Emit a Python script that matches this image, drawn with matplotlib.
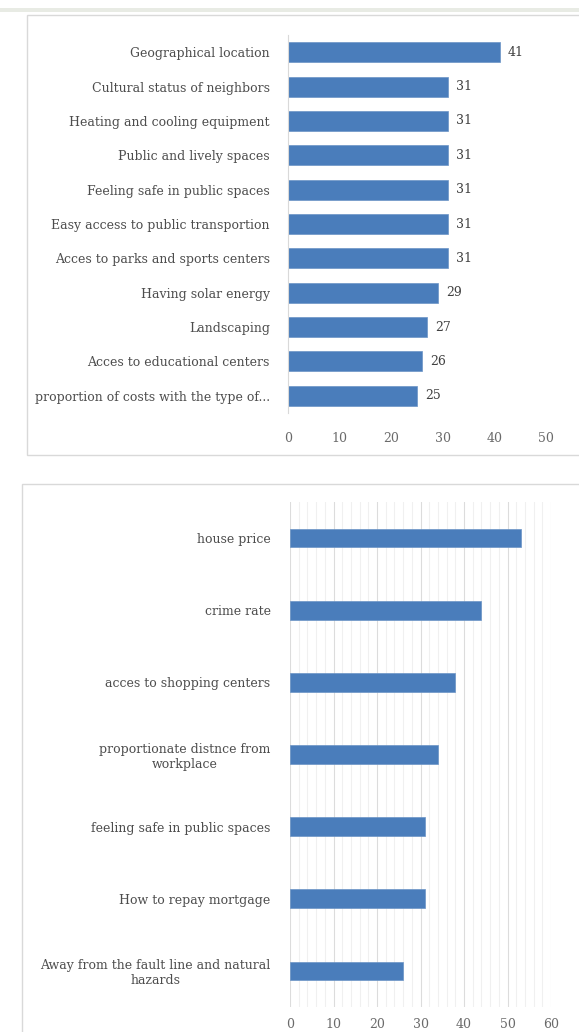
import matplotlib.pyplot as plt
from matplotlib.patches import Rectangle
import numpy as np

# Top chart data (listed top to bottom)
top_labels = [
    'Geographical location',
    'Cultural status of neighbors',
    'Heating and cooling equipment',
    'Public and lively spaces',
    'Feeling safe in public spaces',
    'Easy access to public transportion',
    'Acces to parks and sports centers',
    'Having solar energy',
    'Landscaping',
    'Acces to educational centers',
    'proportion of costs with the type of...',
]
top_values = [41, 31, 31, 31, 31, 31, 31, 29, 27, 26, 25]
top_ticks = [0, 10, 20, 30, 40, 50]

# Bottom chart data (listed top to bottom)
bottom_labels = [
    'house price',
    'crime rate',
    'acces to shopping centers',
    'proportionate distnce from\nworkplace',
    'feeling safe in public spaces',
    'How to repay mortgage',
    'Away from the fault line and natural\nhazards',
]
bottom_values = [53, 44, 38, 34, 31, 31, 26]
bottom_ticks = [0, 10, 20, 30, 40, 50, 60]

bar_color = '#4a7dbb'
text_color = '#4d4d4d'
font = 'DejaVu Serif'
fs = 9

fig = plt.figure(figsize=(5.79, 10.32), dpi=100)
W, H = 579, 1032

# panel frames (behind the axes)
fig.patches.append(Rectangle((0, 1 - 12 / H), 1, 4 / H, transform=fig.transFigure,
                             facecolor='#e8ebe4', edgecolor='none', zorder=-10))
fig.patches.append(Rectangle((27 / W, 1 - 455 / H), 1, 440 / H, transform=fig.transFigure,
                             facecolor='white', edgecolor='#d9d9d9', linewidth=1, zorder=-10))
fig.patches.append(Rectangle((22 / W, -0.05), 1, 0.05 + 1 - 484 / H, transform=fig.transFigure,
                             facecolor='white', edgecolor='#d9d9d9', linewidth=1, zorder=-10))

# ---- top chart ----
ax1 = fig.add_axes([288 / W, 1 - 413 / H, (546 - 288) / W, (413 - 35) / H])
y1 = np.arange(len(top_labels))
ax1.barh(y1, top_values, height=0.58, color=bar_color, edgecolor='#6b94c6', linewidth=0.5)
for y, v in zip(y1, top_values):
    ax1.text(v + 1.6, y, str(v), va='center', ha='left', fontsize=fs,
             color='#404040', family=font)
ax1.set_xlim(0, 50)
ax1.set_ylim(len(top_labels) - 0.5, -0.5)
ax1.set_yticks(y1)
ax1.set_yticklabels(top_labels, fontsize=fs, color=text_color, family=font)
ax1.set_xticks(top_ticks)
ax1.set_xticklabels([str(t) for t in top_ticks], fontsize=fs, color='#6a6a6a', family=font)
ax1.tick_params(length=0, axis='y', pad=13)
ax1.tick_params(length=0, axis='x', pad=14)
for s in ['top', 'right', 'bottom']:
    ax1.spines[s].set_visible(False)
ax1.spines['left'].set_color('#d9d9d9')
ax1.patch.set_alpha(0)

# ---- bottom chart ----
ax2 = fig.add_axes([290 / W, 1 - 1007 / H, (551 - 290) / W, (1007 - 502) / H])
y2 = np.arange(len(bottom_labels))
ax2.barh(y2, bottom_values, height=0.26, color=bar_color, edgecolor='#6b94c6',
         linewidth=0.5, zorder=3)
ax2.set_xlim(0, 60)
ax2.set_ylim(len(bottom_labels) - 0.5, -0.5)
ax2.set_yticks(y2)
ax2.set_yticklabels(bottom_labels, fontsize=fs, color=text_color, family=font,
                    multialignment='center')
ax2.set_xticks(bottom_ticks)
ax2.set_xticklabels([str(t) for t in bottom_ticks], fontsize=fs, color='#6a6a6a', family=font)
ax2.set_xticks(np.arange(0, 61, 2), minor=True)
ax2.grid(axis='x', which='minor', color='#f0f0f0', linewidth=0.8, zorder=0)
ax2.grid(axis='x', which='major', color='#dcdcdc', linewidth=0.8, zorder=0)
ax2.tick_params(length=0, axis='y', pad=14)
ax2.tick_params(length=0, axis='x', which='both', pad=8)
for s in ['top', 'right', 'bottom', 'left']:
    ax2.spines[s].set_visible(False)
ax2.patch.set_alpha(0)

fig.savefig('out.png', dpi=100)
